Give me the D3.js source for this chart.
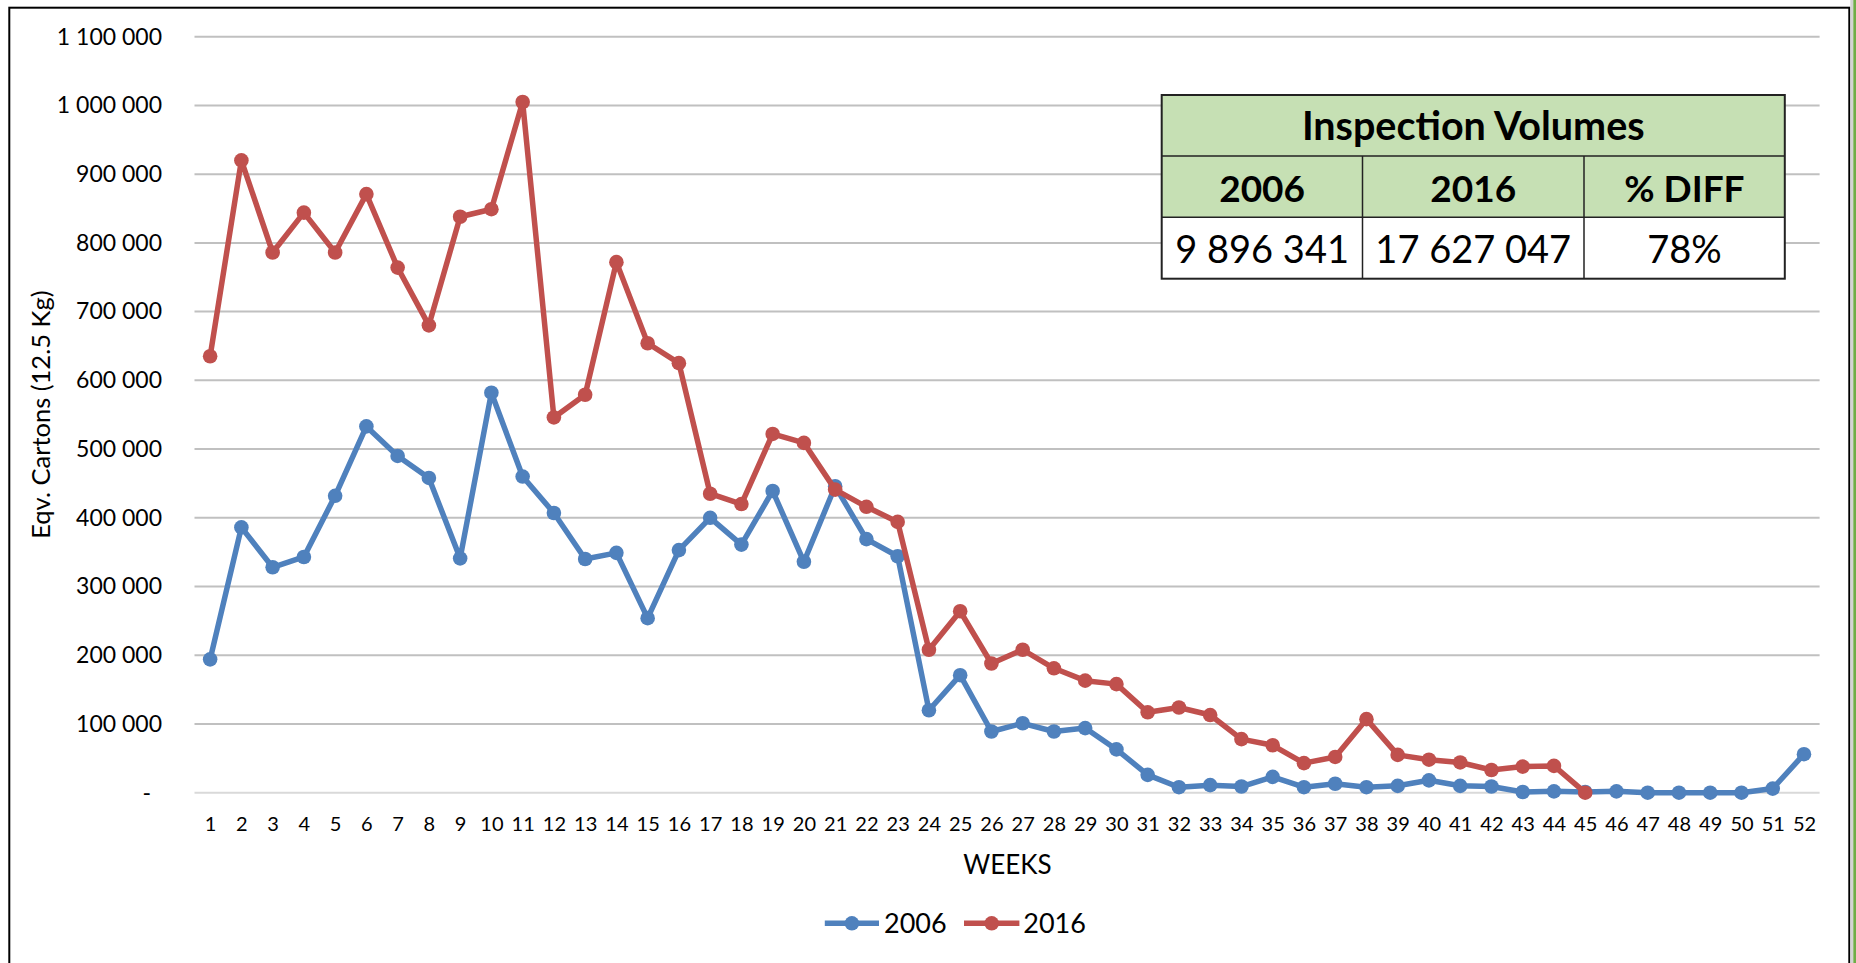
<!DOCTYPE html>
<html>
<head>
<meta charset="utf-8">
<title>Inspection Volumes</title>
<script src="https://d3js.org/d3.v7.min.js"></script>
<style>
  body { margin: 0; background: #fff; }
  svg { display: block; font-family: Lato, "Open Sans", sans-serif; }
</style>
</head>
<body>
<div id="chart"></div>
<script type="text/javascript">
// weeks 1..52
var weeks = [1,2,3,4,5,6,7,8,9,10,11,12,13,14,15,16,17,18,19,20,21,22,23,24,25,26,
             27,28,29,30,31,32,33,34,35,36,37,38,39,40,41,42,43,44,45,46,47,48,49,50,51,52];

var values2006 = [194000,386000,328000,343000,432000,533000,490000,458000,341000,582000,
                  460000,407000,340000,349000,254000,353000,400000,361000,439000,336000,
                  446000,369000,344000,120000,171000,89000,101000,89000,94000,63000,
                  26000,8000,11000,9000,23000,8000,13000,8000,10000,18000,
                  10000,9000,1000,2000,1000,2000,0,0,0,0,6000,56000];

var values2016 = [635000,920000,786000,844000,786000,871000,764000,680000,838000,849000,
                  1005000,546000,579000,772000,654000,625000,435000,420000,522000,509000,
                  441000,416000,394000,208000,264000,188000,208000,181000,163000,158000,
                  117000,124000,113000,78000,69000,43000,52000,107000,55000,48000,
                  44000,33000,38000,39000,0,null,null,null,null,null,null,null];

var yTicks = [0,100000,200000,300000,400000,500000,600000,700000,800000,900000,1000000,1100000];

var tableTitle = "Inspection Volumes";
var tableHeaders = ["2006", "2016", "% DIFF"];
var tableValues = ["9 896 341", "17 627 047", "78%"];

var seriesNames = ["2006", "2016"];
var seriesColors = ["#4F81BD", "#C0504D"];

var W = 1856, H = 963;
var svg = d3.select("#chart").append("svg").attr("width", W).attr("height", H);

// outer frame
svg.append("rect").attr("x", 9.3).attr("y", 7.7).attr("width", 1840).attr("height", H + 20)
    .attr("fill", "#fff").attr("stroke", "#000").attr("stroke-width", 2);
svg.append("rect").attr("x", 1850.3).attr("y", 0).attr("width", 3).attr("height", H).attr("fill", "#D4D4D4");
svg.append("rect").attr("x", 1853.3).attr("y", 0).attr("width", 2.7).attr("height", H).attr("fill", "#70AD47");

var x = d3.scalePoint().domain(weeks).range([194.5, 1819.6]).padding(0.5);
var y = d3.scaleLinear().domain([0, 1100000]).range([792.7, 36.7]);

var fmt = d3.formatLocale({decimal: ".", thousands: " ", grouping: [3], currency: ["", ""]}).format(",");

// gridlines
svg.append("g").selectAll("line").data(yTicks).enter().append("line")
    .attr("x1", 194.5).attr("x2", 1819.6)
    .attr("y1", function (d) { return y(d); }).attr("y2", function (d) { return y(d); })
    .attr("stroke", function (d) { return d == 0 ? "#D9D9D9" : "#C0C0C0"; })
    .attr("stroke-width", 2);

// y axis labels
var yAxis = d3.axisLeft(y).tickValues(yTicks).tickSize(0).tickPadding(0)
    .tickFormat(function (d) { return d == 0 ? "-" : fmt(d); });
var gy = svg.append("g").attr("transform", "translate(162,0)").call(yAxis);
gy.select(".domain").remove();
gy.selectAll("text").attr("font-size", 23).attr("font-family", "Lato").attr("fill", "#000")
    .attr("x", function (d) { return d == 0 ? -11 : 0; });

// x axis labels
var xAxis = d3.axisBottom(x).tickSize(0).tickPadding(0);
var gx = svg.append("g").attr("transform", "translate(0,830.7)").call(xAxis);
gx.select(".domain").remove();
gx.selectAll("text").attr("font-size", 20).attr("font-family", "Lato").attr("fill", "#000")
    .attr("dy", 0).attr("y", 0);

// axis titles
svg.append("text").attr("x", 1007.5).attr("y", 874.3).attr("text-anchor", "middle")
    .attr("font-size", 26).text("WEEKS");
svg.append("text").attr("transform", "translate(50,414.7) rotate(-90)").attr("text-anchor", "middle")
    .attr("font-size", 25.5).text("Eqv. Cartons (12.5 Kg)");

// series
var allSeries = [values2006, values2016];
allSeries.forEach(function (vals, i) {
    var pts = weeks.map(function (w, j) { return {w: w, v: vals[j]}; });
    var line = d3.line()
        .defined(function (d) { return d.v != null; })
        .x(function (d) { return x(d.w); })
        .y(function (d) { return y(d.v); });
    var g = svg.append("g");
    g.append("path").datum(pts).attr("d", line).attr("fill", "none")
        .attr("stroke", seriesColors[i]).attr("stroke-width", 5.5).attr("stroke-linejoin", "round");
    g.selectAll("circle").data(pts.filter(function (d) { return d.v != null; })).enter().append("circle")
        .attr("cx", function (d) { return x(d.w); })
        .attr("cy", function (d) { return y(d.v); })
        .attr("r", 7.3).attr("fill", seriesColors[i]);
});

// legend
var legendItems = [{x1: 824.8, x2: 879, tx: 884}, {x1: 964, x2: 1019.4, tx: 1023.3}];
legendItems.forEach(function (it, i) {
    var g = svg.append("g");
    g.append("line").attr("x1", it.x1).attr("x2", it.x2).attr("y1", 923.3).attr("y2", 923.3)
        .attr("stroke", seriesColors[i]).attr("stroke-width", 5.5);
    g.append("circle").attr("cx", (it.x1 + it.x2) / 2).attr("cy", 923.3).attr("r", 7.3).attr("fill", seriesColors[i]);
    g.append("text").attr("x", it.tx).attr("y", 932.7).attr("font-size", 27).text(seriesNames[i]);
});

// summary table
var tx0 = 1161.7, tx1 = 1784.8;
var colX = [1161.7, 1362.5, 1584, 1784.8];
var rowY = [95, 156, 217.3, 278.7];
var tbl = svg.append("g");
tbl.append("rect").attr("x", tx0).attr("y", rowY[0]).attr("width", tx1 - tx0).attr("height", rowY[2] - rowY[0])
    .attr("fill", "#C6E0B4");
tbl.append("rect").attr("x", tx0).attr("y", rowY[2]).attr("width", tx1 - tx0).attr("height", rowY[3] - rowY[2])
    .attr("fill", "#fff");
[rowY[1], rowY[2]].forEach(function (ry) {
    tbl.append("line").attr("x1", tx0).attr("x2", tx1).attr("y1", ry).attr("y2", ry)
        .attr("stroke", "#222").attr("stroke-width", 1.5);
});
[colX[1], colX[2]].forEach(function (cx) {
    tbl.append("line").attr("x1", cx).attr("x2", cx).attr("y1", rowY[1]).attr("y2", rowY[3])
        .attr("stroke", "#222").attr("stroke-width", 1.5);
});
tbl.append("rect").attr("x", tx0).attr("y", rowY[0]).attr("width", tx1 - tx0).attr("height", rowY[3] - rowY[0])
    .attr("fill", "none").attr("stroke", "#222").attr("stroke-width", 2);

tbl.append("text").attr("x", (tx0 + tx1) / 2).attr("y", 140).attr("text-anchor", "middle")
    .attr("font-size", 39.5).attr("font-weight", "bold").text(tableTitle);
tableHeaders.forEach(function (h, i) {
    tbl.append("text").attr("x", (colX[i] + colX[i + 1]) / 2).attr("y", 201.7).attr("text-anchor", "middle")
        .attr("font-size", 37).attr("font-weight", "bold").text(h);
});
tableValues.forEach(function (v, i) {
    tbl.append("text").attr("x", (colX[i] + colX[i + 1]) / 2).attr("y", 263.3).attr("text-anchor", "middle")
        .attr("font-size", 38).text(v);
});
</script>
</body>
</html>
